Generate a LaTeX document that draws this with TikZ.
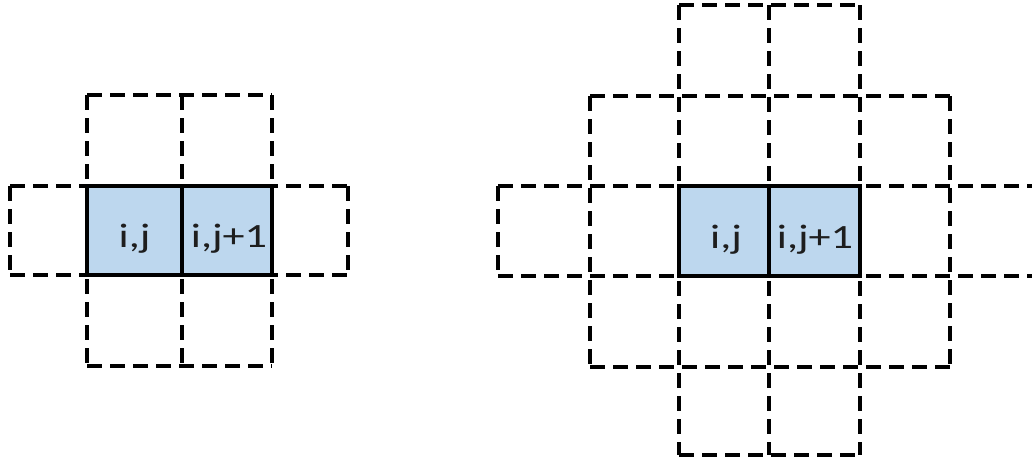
\documentclass[tikz,border=0pt]{standalone}
\usepackage{fontspec}
\usepackage{graphicx}
\setmainfont{Carlito}
\definecolor{cellblue}{RGB}{189,215,238}
\definecolor{txt}{RGB}{30,30,30}
\newcommand{\wide}[1]{\scalebox{1.3}[1]{#1}}
\tikzset{
  gridline/.style={line width=3.3pt, dash pattern=on 15pt off 8pt, black},
  solidbox/.style={line width=3.3pt, black, fill=cellblue},
  celltext/.style={font=\fontsize{34}{34}\selectfont, text=txt, anchor=base, inner sep=0pt}
}
\begin{document}
\begin{tikzpicture}[x=1pt,y=-1pt]
\useasboundingbox (0,0) rectangle (1032,461);
% ---------- left figure ----------
\draw[gridline] (87,95) -- (272,95);
\draw[gridline] (10,186) -- (348,186);
\draw[gridline] (10,275) -- (348,275);
\draw[gridline] (87,366) -- (272,366);
\draw[gridline] (10,186) -- (10,275);
\draw[gridline] (87,95) -- (87,366);
\draw[gridline] (182,95) -- (182,366);
\draw[gridline] (272,95) -- (272,366);
\draw[gridline] (348,186) -- (348,275);
\draw[solidbox] (87,186) rectangle (182,275);
\draw[solidbox] (182,186) rectangle (272,275);
\node[celltext] (lij) at (134.5,247) {\wide{i,j}};
\node[celltext] (lij1) at (229,247) {\wide{i,j+1}};
% ---------- right figure ----------
\draw[gridline] (679,5) -- (860,5);
\draw[gridline] (590,96) -- (950,96);
\draw[gridline] (498,186) -- (1040,186);
\draw[gridline] (498,276) -- (1040,276);
\draw[gridline] (590,367) -- (950,367);
\draw[gridline] (679,455) -- (860,455);
\draw[gridline] (498,186) -- (498,276);
\draw[gridline] (590,96) -- (590,367);
\draw[gridline] (679,5) -- (679,455);
\draw[gridline] (769,5) -- (769,455);
\draw[gridline] (860,5) -- (860,455);
\draw[gridline] (950,96) -- (950,367);
\draw[solidbox] (679,186) rectangle (769,276);
\draw[solidbox] (769,186) rectangle (860,276);
\node[celltext] (rij) at (726,248) {\wide{i,j}};
\node[celltext] (rij1) at (815,248) {\wide{i,j+1}};
\end{tikzpicture}
\end{document}
